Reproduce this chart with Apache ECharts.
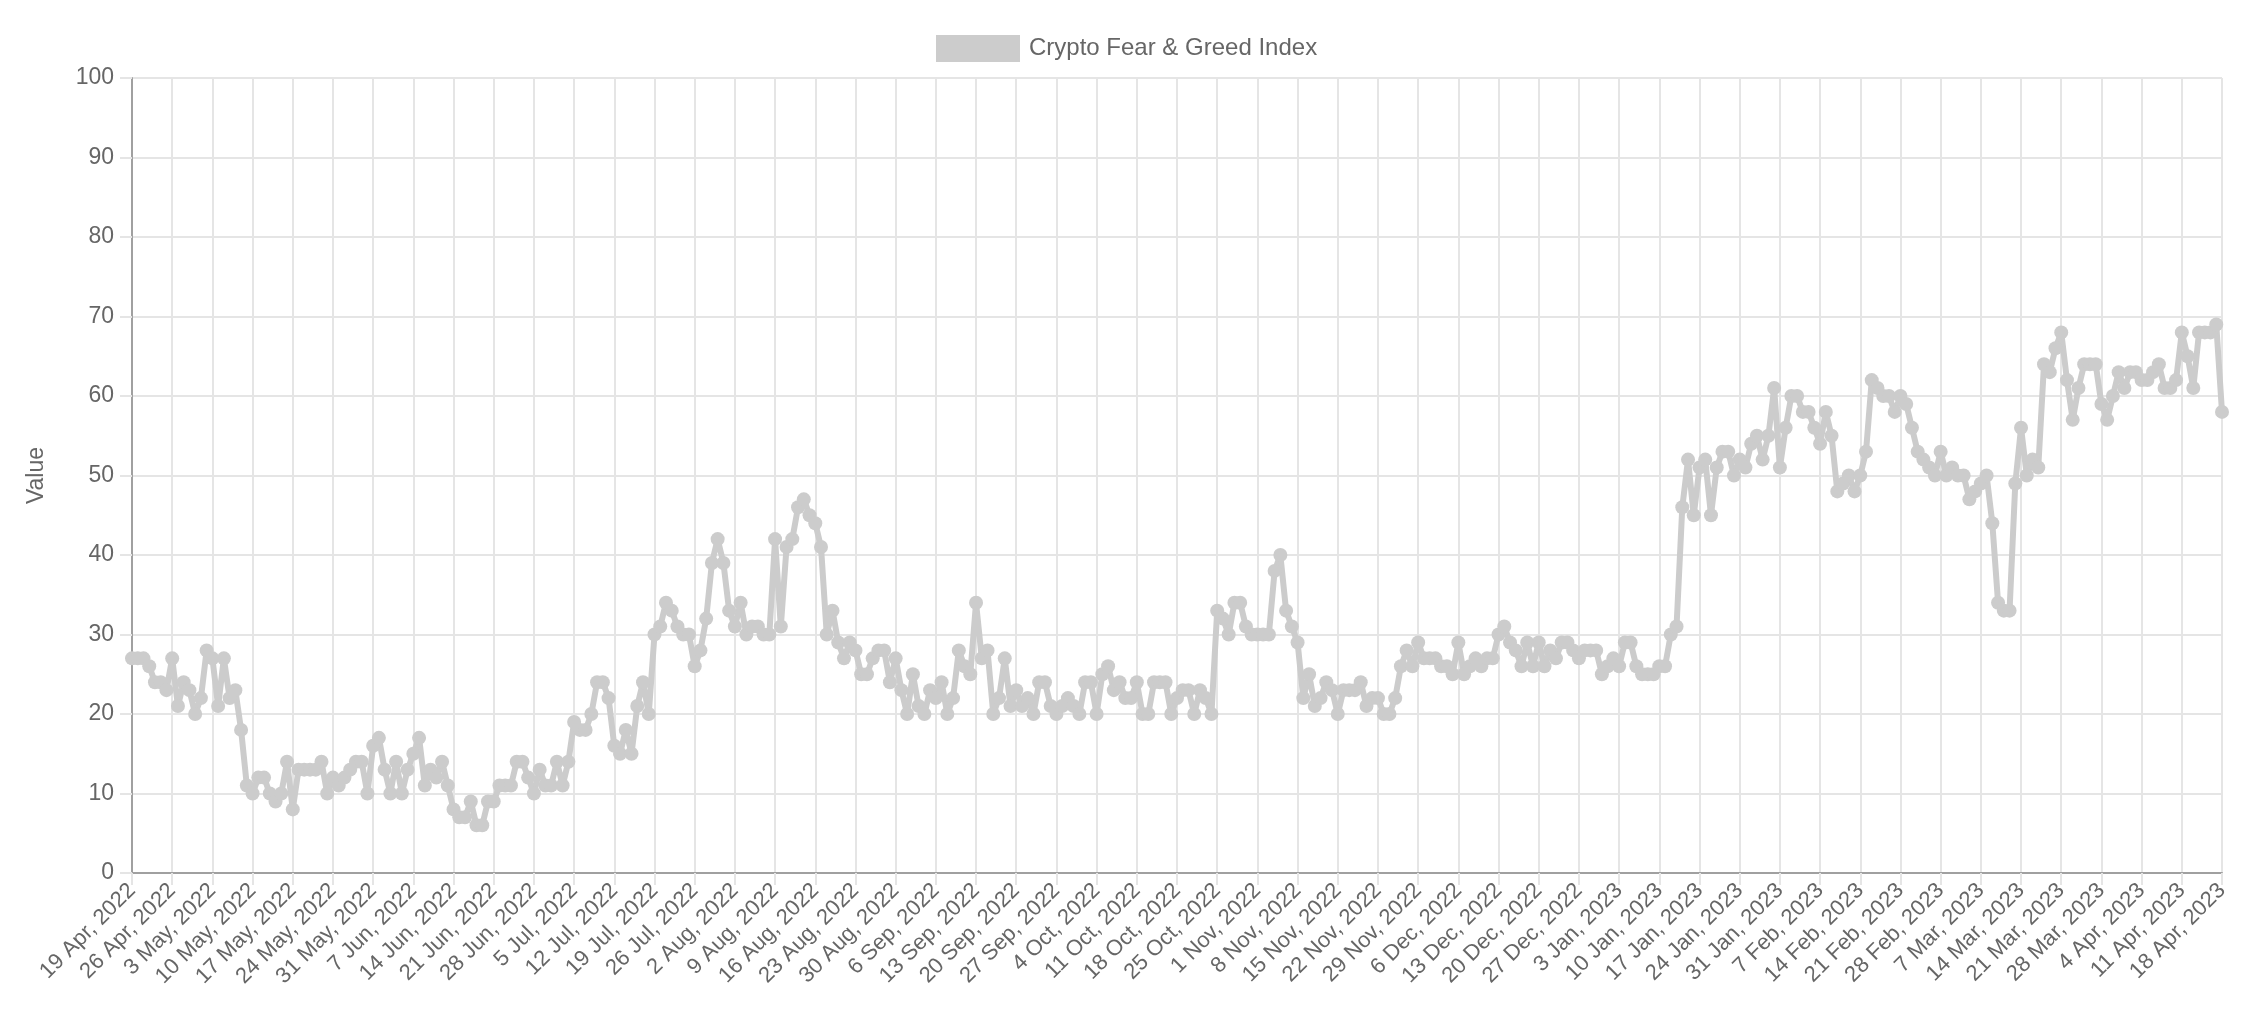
<!DOCTYPE html>
<html>
<head>
<meta charset="utf-8">
<script src="https://cdn.jsdelivr.net/npm/echarts@6/dist/echarts.min.js"></script>
<style>
html,body{margin:0;padding:0;background:#fff;}
#chart{width:2266px;height:1034px;}
</style>
</head>
<body>
<div id="chart"></div>
<script>
// First day of the daily series and number of days
const startDate = [2022, 3, 19]; // 19 Apr 2022 (month is 0-based)
const monthNames = ["Jan","Feb","Mar","Apr","May","Jun","Jul","Aug","Sep","Oct","Nov","Dec"];

// Daily index values, 19 Apr 2022 .. 18 Apr 2023
const values = [
27,27,27,26,24,24,23,27,21,24,
23,20,22,28,27,21,27,22,23,18,
11,10,12,12,10,9,10,14,8,13,
13,13,13,14,10,12,11,12,13,14,
14,10,16,17,13,10,14,10,13,15,
17,11,13,12,14,11,8,7,7,9,
6,6,9,9,11,11,11,14,14,12,
10,13,11,11,14,11,14,19,18,18,
20,24,24,22,16,15,18,15,21,24,
20,30,31,34,33,31,30,30,26,28,
32,39,42,39,33,31,34,30,31,31,
30,30,42,31,41,42,46,47,45,44,
41,30,33,29,27,29,28,25,25,27,
28,28,24,27,23,20,25,21,20,23,
22,24,20,22,28,26,25,34,27,28,
20,22,27,21,23,21,22,20,24,24,
21,20,21,22,21,20,24,24,20,25,
26,23,24,22,22,24,20,20,24,24,
24,20,22,23,23,20,23,22,20,33,
32,30,34,34,31,30,30,30,30,38,
40,33,31,29,22,25,21,22,24,23,
20,23,23,23,24,21,22,22,20,20,
22,26,28,26,29,27,27,27,26,26,
25,29,25,26,27,26,27,27,30,31,
29,28,26,29,26,29,26,28,27,29,
29,28,27,28,28,28,25,26,27,26,
29,29,26,25,25,25,26,26,30,31,
46,52,45,51,52,45,51,53,53,50,
52,51,54,55,52,55,61,51,56,60,
60,58,58,56,54,58,55,48,49,50,
48,50,53,62,61,60,60,58,60,59,
56,53,52,51,50,53,50,51,50,50,
47,48,49,50,44,34,33,33,49,56,
50,52,51,64,63,66,68,62,57,61,
64,64,64,59,57,60,63,61,63,63,
62,62,63,64,61,61,62,68,65,61,
68,68,68,69,58
];

const yTicks = [0,10,20,30,40,50,60,70,80,90,100];
const seriesName = "Crypto Fear & Greed Index";
const yAxisTitle = "Value";

// Category labels: one per day
const categories = [];
for (let i = 0; i < values.length; i++) {
  const d = new Date(Date.UTC(startDate[0], startDate[1], startDate[2] + i));
  categories.push(d.getUTCDate() + " " + monthNames[d.getUTCMonth()] + ", " + d.getUTCFullYear());
}

const FONT = "'Liberation Sans', Arial, Helvetica, sans-serif";
const TXT = "#666666";
const GRID = "#e5e5e5";
const LINE = "#cccccc";

const chart = echarts.init(document.getElementById('chart'), null, {renderer: 'canvas'});
chart.setOption({
  animation: false,
  backgroundColor: '#ffffff',
  legend: {
    show: true,
    top: 30,
    left: 931,
    icon: 'rect',
    itemWidth: 84,
    itemHeight: 27,
    itemGap: 10,
    textStyle: {color: TXT, fontSize: 24, fontFamily: FONT, padding: [0, 0, 0, 4]},
    data: [seriesName]
  },
  grid: {left: 132, right: 44, top: 78, bottom: 161, containLabel: false},
  xAxis: {
    type: 'category',
    boundaryGap: false,
    data: categories,
    axisLine: {show: true, lineStyle: {color: '#a0a0a0', width: 2}},
    axisTick: {show: true, interval: 6, length: 12, lineStyle: {color: GRID, width: 2}},
    axisLabel: {interval: 6, rotate: 45, color: TXT, fontSize: 22, fontFamily: FONT, margin: 14},
    splitLine: {show: true, interval: 6, lineStyle: {color: GRID, width: 2}}
  },
  yAxis: {
    type: 'value',
    min: yTicks[0],
    max: yTicks[yTicks.length - 1],
    interval: 10,
    name: yAxisTitle,
    nameLocation: 'middle',
    nameRotate: 90,
    nameGap: 84,
    nameTextStyle: {color: TXT, fontSize: 23, fontFamily: FONT},
    axisLine: {show: true, lineStyle: {color: '#a0a0a0', width: 2}},
    axisTick: {show: true, length: 12, lineStyle: {color: GRID, width: 2}},
    axisLabel: {color: TXT, fontSize: 23, fontFamily: FONT, margin: 18},
    splitLine: {show: true, lineStyle: {color: GRID, width: 2}}
  },
  series: [{
    name: seriesName,
    type: 'line',
    data: values,
    symbol: 'circle',
    symbolSize: 14,
    showSymbol: true,
    showAllSymbol: true,
    color: LINE,
    itemStyle: {color: LINE},
    lineStyle: {color: LINE, width: 6},
    z: 3
  }]
});
</script>
</body>
</html>
